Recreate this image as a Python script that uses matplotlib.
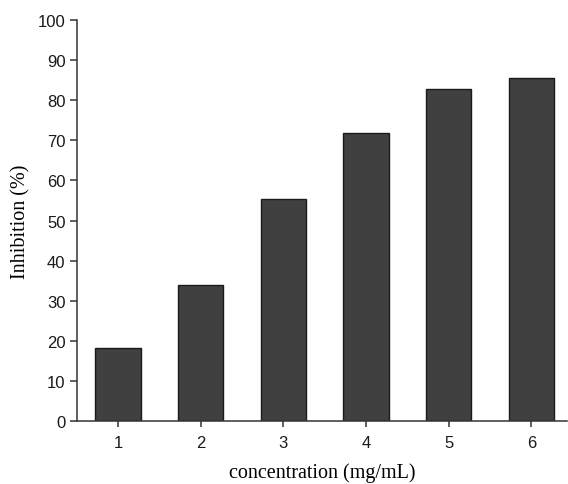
import matplotlib
matplotlib.use("Agg")
import matplotlib.pyplot as plt

concentration = [1, 2, 3, 4, 5, 6]
inhibition = [18.3, 34.0, 55.3, 71.9, 82.9, 85.6]
yticks = [0, 10, 20, 30, 40, 50, 60, 70, 80, 90, 100]

fig = plt.figure(figsize=(5.68, 4.85), dpi=100)
ax = fig.add_axes([0.135, 0.129, 0.863, 0.828])

ax.bar(concentration, inhibition, width=0.55, color="#404040",
       edgecolor="#1a1a1a", linewidth=1.0)

ax.set_xlim(0.5, 6.43)
ax.set_ylim(0, 100)
ax.set_xticks(concentration)
ax.set_yticks(yticks)

for side in ("top", "right"):
    ax.spines[side].set_visible(False)
for side in ("left", "bottom"):
    ax.spines[side].set_color("#333333")
    ax.spines[side].set_linewidth(1.1)

ax.tick_params(axis="y", direction="out", length=5, width=1.1, color="#333333",
               labelsize=12, pad=3)
ax.tick_params(axis="x", direction="out", length=4.5, width=1.1, color="#333333",
               labelsize=12, pad=5)
for lab in ax.get_xticklabels() + ax.get_yticklabels():
    lab.set_family("Liberation Sans")
    lab.set_color("#1a1a1a")

ax.set_xlabel("concentration (mg/mL)", family="Liberation Serif", fontsize=14.5,
              labelpad=9)
ax.set_ylabel("Inhibition (%)", family="Liberation Serif", fontsize=14.5,
              labelpad=5)

fig.savefig("out.png", dpi=100)
